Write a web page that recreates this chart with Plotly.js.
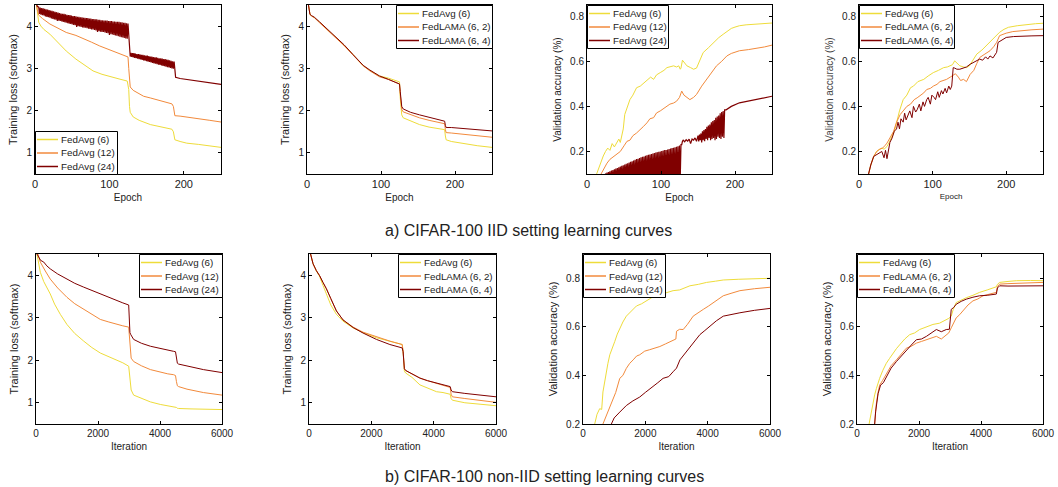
<!DOCTYPE html>
<html><head><meta charset="utf-8">
<script src="https://cdn.plot.ly/plotly-3.0.1.min.js"></script>
<style>html,body{margin:0;padding:0;background:#fff}#chart{width:1058px;height:487px}</style>
</head><body><div id="chart"></div>
<script>
// ---------- colours ----------
const C_Y = '#eedc3a', C_O = '#f28a3c', C_R = '#800000';
const COLORS = [C_Y, C_O, C_R];
function seq(a, step, n){ const r=[]; for(let i=0;i<n;i++) r.push(a+i*step); return r; }
// alternate two series (upper and lower edge of an oscillating curve)
function zigzag(hi, lo){ const r=[]; for(let i=0;i<hi.length;i++){ r.push(hi[i]); if(i<lo.length) r.push(lo[i]); } return r; }

// ---------- a) IID, training loss, FedAvg ----------
const p1YelX = [2,3,5,8,12,20,30,42,55,65,78,90,101,113,124,126,127,128,132,140,155,170,184,186,187,188,195,204,220,235,250];
const p1YelY = [4.5,4.3,4.09,4.0,3.92,3.81,3.62,3.41,3.22,3.1,2.94,2.86,2.80,2.75,2.70,2.5,2.1,1.96,1.85,1.77,1.67,1.61,1.56,1.5,1.35,1.31,1.27,1.23,1.2,1.16,1.13];
const p1OraX = [2,3,5,10,20,30,42,55,65,76,87,98,110,118,125,126,127,128,132,140,146,155,163,174,184,186,187,188,195,204,220,235,250];
const p1OraY = [4.55,4.4,4.26,4.18,4.05,3.96,3.85,3.78,3.71,3.62,3.53,3.45,3.36,3.31,3.27,3.0,2.65,2.56,2.48,2.4,2.34,2.3,2.26,2.21,2.16,2.1,1.92,1.88,1.87,1.85,1.81,1.77,1.73];
const p1RedHeadX = [1,3];
const p1RedHeadY = [4.6,4.47];
// epochs 5..125, odd epochs = upper edge, even epochs = lower edge
const p1RedBand1Hi = [4.45,4.44,4.43,4.42,4.41,4.40,4.39,4.38,4.37,4.36,4.35,4.34,4.33,4.32,4.31,4.30,4.29,4.29,4.28,4.27,4.26,4.26,4.25,4.24,4.24,4.23,4.22,4.22,4.21,4.21,4.20,4.20,4.19,4.19,4.18,4.18,4.17,4.17,4.16,4.16,4.15,4.15,4.14,4.14,4.13,4.13,4.13,4.12,4.12,4.12,4.11,4.11,4.10,4.10,4.10,4.09,4.09,4.08,4.08,4.07,4.06];
const p1RedBand1Lo = [4.29,4.27,4.26,4.25,4.23,4.22,4.21,4.20,4.18,4.17,4.16,4.15,4.12,4.13,4.12,4.11,4.10,4.09,4.08,4.07,4.06,4.05,4.04,4.03,4.02,3.98,4.00,3.99,3.98,3.97,3.96,3.96,3.95,3.94,3.93,3.92,3.92,3.91,3.90,3.86,3.88,3.87,3.86,3.86,3.85,3.84,3.83,3.79,3.81,3.80,3.79,3.78,3.77,3.76,3.75,3.74,3.73,3.72,3.71,3.70];
// epochs 127..187
const p1RedBand2Hi = [3.38,3.37,3.36,3.36,3.35,3.34,3.34,3.33,3.32,3.32,3.31,3.30,3.30,3.29,3.28,3.28,3.27,3.26,3.26,3.25,3.24,3.24,3.23,3.22,3.22,3.21,3.20,3.19,3.18,3.17,3.16];
const p1RedBand2Lo = [3.28,3.27,3.26,3.25,3.24,3.23,3.22,3.21,3.20,3.19,3.18,3.17,3.16,3.15,3.14,3.13,3.12,3.11,3.10,3.09,3.08,3.07,3.06,3.05,3.04,3.03,3.02,3.01,3.00,2.99];
const p1RedTailX = [188,189,195,210,230,250];
const p1RedTailY = [2.85,2.79,2.76,2.72,2.67,2.62];

// ---------- a) IID, training loss, FedLAMA ----------
const p2HeadX = [2,3,4,6,10,17,25,32,40,50,62,70,76,85,98,110,118,123,125];
const p2YelHeadY = [4.5,4.38,4.28,4.24,4.2,4.09,3.96,3.84,3.73,3.55,3.33,3.18,3.06,2.95,2.82,2.77,2.73,2.70,2.68];
const p2OraHeadY = [4.5,4.38,4.28,4.24,4.2,4.08,3.95,3.84,3.72,3.54,3.32,3.17,3.06,2.94,2.80,2.74,2.68,2.65,2.63];
const p2RedHeadY = [4.5,4.38,4.28,4.25,4.21,4.10,3.97,3.85,3.74,3.56,3.33,3.19,3.07,2.96,2.82,2.74,2.68,2.66,2.63];
const p2TailX = [126,127,128,130,140,152,165,178,186,187,188,195,210,230,250];
const p2YelTailY = [2.3,1.98,1.9,1.83,1.75,1.67,1.61,1.57,1.55,1.4,1.31,1.27,1.22,1.17,1.13];
const p2OraTailY = [2.4,2.1,2.03,1.97,1.9,1.83,1.77,1.72,1.69,1.55,1.48,1.47,1.44,1.4,1.37];
const p2RedTailY = [2.45,2.18,2.1,2.04,1.96,1.9,1.84,1.78,1.75,1.65,1.6,1.6,1.58,1.55,1.52];

// ---------- a) IID, validation accuracy, FedAvg ----------
const p3YelX = [13,15,18,22,25,28,31,34,37,40,43,45,47,49,51,54,58,62,67,72,77,81,86,90,94,99,104,108,113,117,121,124,126,127,129,132,135,140,144,148,152,157,164,171,178,184,190,195,200,206,215,229,240,250];
const p3YelY = [0.1,0.12,0.148,0.18,0.2,0.215,0.205,0.235,0.22,0.237,0.255,0.24,0.28,0.30,0.364,0.39,0.43,0.45,0.483,0.49,0.505,0.513,0.53,0.52,0.54,0.55,0.56,0.572,0.575,0.58,0.575,0.58,0.565,0.57,0.605,0.59,0.58,0.572,0.565,0.57,0.6,0.639,0.66,0.684,0.705,0.72,0.735,0.746,0.752,0.758,0.762,0.766,0.768,0.77];
const p3OraX = [19,22,27,31,36,40,45,50,54,58,62,67,72,76,81,85,90,94,99,103,108,112,117,121,125,128,131,135,139,144,148,155,162,168,175,182,189,195,206,218,229,240,250];
const p3OraY = [0.1,0.12,0.148,0.165,0.178,0.19,0.2,0.225,0.245,0.25,0.27,0.282,0.3,0.31,0.327,0.345,0.35,0.371,0.38,0.39,0.40,0.41,0.415,0.423,0.44,0.468,0.45,0.438,0.43,0.44,0.453,0.49,0.52,0.55,0.58,0.6,0.624,0.635,0.647,0.652,0.657,0.664,0.672];
// epochs 25..127, upper edge / lower edge (lower edge lies below the axis)
const p3RedBand1Hi = [0.103,0.106,0.109,0.112,0.115,0.118,0.121,0.124,0.127,0.130,0.133,0.136,0.139,0.142,0.145,0.148,0.151,0.154,0.157,0.160,0.163,0.166,0.168,0.171,0.174,0.176,0.178,0.181,0.183,0.185,0.187,0.189,0.191,0.193,0.195,0.197,0.199,0.200,0.202,0.204,0.206,0.207,0.209,0.211,0.213,0.215,0.217,0.219,0.221,0.223,0.226,0.23];
const p3RedBand1Lo = [0.07,0.06,0.08,0.05,0.07,0.06,0.08,0.05,0.07,0.06,0.08,0.05,0.07,0.06,0.08,0.05,0.07,0.06,0.08,0.05,0.07,0.06,0.08,0.05,0.07,0.06,0.08,0.05,0.07,0.06,0.08,0.05,0.07,0.06,0.08,0.05,0.07,0.06,0.08,0.05,0.07,0.06,0.08,0.05,0.07,0.06,0.08,0.05,0.07,0.06,0.08];
const p3RedMidX = [128,129,130,132,134,136,138,140,142,144,146,148];
const p3RedMidY = [0.23,0.245,0.25,0.243,0.252,0.246,0.255,0.235,0.255,0.25,0.26,0.245];
// epochs 150..186
const p3RedBand2Hi = [0.27,0.275,0.28,0.29,0.295,0.30,0.31,0.315,0.32,0.33,0.335,0.34,0.35,0.355,0.36,0.37,0.375,0.38,0.385];
const p3RedBand2Lo = [0.245,0.25,0.24,0.25,0.245,0.255,0.25,0.26,0.25,0.255,0.26,0.25,0.255,0.265,0.26,0.255,0.265,0.26];
const p3RedTailX = [188,190,195,206,229,250];
const p3RedTailY = [0.385,0.39,0.40,0.416,0.43,0.445];

// ---------- a) IID, validation accuracy, FedLAMA ----------
const p4YelX = [13,16,20,24,27,31,34,38,41,45,48,51,55,60,65,70,74,80,88,94,101,108,115,120,124,127,130,134,137,142,146,150,153,157,160,167,173,180,187,191,197,203,215,227,240,250];
const p4YelY = [0.1,0.14,0.178,0.2,0.207,0.215,0.21,0.222,0.24,0.267,0.29,0.327,0.38,0.43,0.45,0.483,0.49,0.51,0.52,0.535,0.55,0.56,0.572,0.575,0.58,0.585,0.602,0.59,0.58,0.575,0.572,0.58,0.595,0.615,0.632,0.65,0.669,0.69,0.714,0.729,0.742,0.751,0.758,0.763,0.767,0.769];
const p4OraX = [13,16,20,24,28,32,35,38,42,47,51,56,60,65,70,75,79,84,88,92,97,101,106,110,115,119,124,128,131,135,138,142,146,151,156,160,164,170,178,183,187,191,200,209,220,235,250];
const p4OraY = [0.1,0.14,0.178,0.2,0.21,0.215,0.225,0.237,0.26,0.289,0.33,0.364,0.38,0.4,0.41,0.43,0.438,0.45,0.46,0.475,0.48,0.49,0.498,0.51,0.515,0.52,0.53,0.54,0.545,0.53,0.515,0.52,0.51,0.542,0.56,0.59,0.617,0.63,0.647,0.665,0.684,0.714,0.725,0.732,0.736,0.74,0.743];
const p4RedX = [13,16,20,24,28,31,34,36,38,40,42,45,48,51,53,55,57,60,62,64,67,69,72,74,77,79,82,84,87,89,92,94,97,99,102,104,107,109,112,114,117,119,122,124,126,127,128,130,133,137,141,146,151,156,160,164,168,172,175,178,182,185,187,189,192,196,200,210,220,235,250];
const p4RedY = [0.1,0.14,0.178,0.185,0.193,0.2,0.172,0.205,0.168,0.215,0.24,0.26,0.29,0.30,0.33,0.30,0.345,0.33,0.37,0.34,0.36,0.38,0.35,0.40,0.375,0.385,0.41,0.38,0.42,0.40,0.43,0.44,0.41,0.45,0.44,0.43,0.465,0.44,0.47,0.455,0.48,0.46,0.49,0.475,0.49,0.52,0.572,0.57,0.565,0.565,0.57,0.575,0.587,0.595,0.60,0.61,0.605,0.62,0.61,0.624,0.615,0.632,0.64,0.684,0.69,0.7,0.706,0.71,0.712,0.713,0.714];

// ---------- b) non-IID, training loss, FedAvg ----------
const p5YelX = [30,80,140,250,460,600,785,1000,1250,1540,1800,2075,2350,2610,2800,2990,3010,3040,3070,3150,3400,3690,4010,4250,4500,4530,4560,4600,5000,5500,6000];
const p5YelY = [4.5,4.3,4.07,3.85,3.56,3.32,3.08,2.84,2.63,2.45,2.3,2.17,2.08,2.01,1.94,1.86,1.7,1.4,1.3,1.18,1.1,1.02,0.96,0.93,0.9,0.89,0.87,0.865,0.855,0.845,0.84];
const p5OraX = [40,80,140,300,460,700,1000,1250,1540,1800,2075,2350,2610,2800,2990,3010,3040,3070,3150,3400,3690,4000,4250,4440,4500,4530,4560,4600,4870,5400,6000];
const p5OraY = [4.55,4.45,4.31,4.1,3.91,3.7,3.48,3.33,3.2,3.07,2.96,2.9,2.84,2.81,2.78,2.6,2.2,2.05,1.97,1.87,1.78,1.72,1.68,1.66,1.64,1.5,1.4,1.38,1.32,1.24,1.18];
const p5RedX = [30,90,150,250,350,460,700,1000,1250,1540,1800,2075,2350,2610,2800,2990,3010,3030,3060,3150,3400,3690,4000,4250,4440,4500,4530,4560,4600,4870,5400,6000];
const p5RedY = [4.5,4.43,4.35,4.31,4.22,4.15,4.03,3.91,3.81,3.72,3.64,3.56,3.47,3.40,3.35,3.30,3.0,2.65,2.6,2.49,2.4,2.33,2.28,2.25,2.21,2.2,2.05,1.93,1.91,1.86,1.78,1.71];

// ---------- b) non-IID, training loss, FedLAMA ----------
const p6X = [50,75,130,235,340,450,560,700,880,1090,1415,1735,2165,2595,2990,3020,3060,3100,3300,3560,3800,4090,4300,4470,4530,4560,4600,5000,5500,6000];
const p6YelY = [4.5,4.43,4.27,4.1,3.97,3.76,3.56,3.3,3.08,2.92,2.76,2.65,2.53,2.45,2.37,2.2,1.75,1.70,1.6,1.42,1.34,1.26,1.24,1.22,1.2,1.1,1.06,1.0,0.96,0.93];
const p6OraY = [4.5,4.43,4.27,4.11,3.99,3.83,3.68,3.45,3.16,2.95,2.78,2.66,2.55,2.45,2.37,2.2,1.8,1.76,1.68,1.58,1.52,1.46,1.42,1.39,1.36,1.2,1.14,1.1,1.06,1.01];
const p6RedY = [4.5,4.43,4.27,4.11,3.99,3.83,3.68,3.45,3.16,2.95,2.77,2.64,2.49,2.37,2.29,2.2,1.8,1.76,1.68,1.58,1.52,1.46,1.42,1.39,1.38,1.3,1.26,1.22,1.18,1.14];

// ---------- b) non-IID, validation accuracy, FedAvg ----------
const p7YelX = [375,450,535,600,640,700,750,800,860,940,1020,1100,1180,1280,1390,1550,1715,1880,2035,2200,2360,2600,2890,3100,3430,3700,3965,4250,4500,5000,5500,6000];
const p7YelY = [0.2,0.24,0.263,0.26,0.332,0.38,0.429,0.45,0.485,0.51,0.54,0.57,0.596,0.62,0.644,0.665,0.686,0.695,0.707,0.72,0.728,0.738,0.749,0.752,0.769,0.775,0.783,0.788,0.793,0.796,0.798,0.8];
const p7OraX = [640,700,750,850,965,1050,1180,1280,1390,1500,1610,1720,1820,1980,2140,2300,2465,2650,2890,2980,3000,3100,3215,3350,3535,3700,3860,4020,4180,4340,4500,4750,5035,5500,6000];
const p7OraY = [0.2,0.22,0.235,0.27,0.304,0.33,0.388,0.40,0.429,0.45,0.464,0.48,0.485,0.5,0.506,0.512,0.519,0.53,0.547,0.55,0.582,0.59,0.589,0.61,0.644,0.66,0.672,0.685,0.70,0.715,0.728,0.738,0.749,0.757,0.763];
const p7RedX = [910,1000,1180,1390,1600,1820,2000,2250,2400,2570,2750,2890,3000,3110,3270,3430,3590,3750,3910,4070,4280,4500,4750,5035,5500,6000];
const p7RedY = [0.2,0.225,0.249,0.276,0.295,0.311,0.33,0.353,0.37,0.388,0.395,0.415,0.43,0.464,0.49,0.513,0.54,0.568,0.585,0.603,0.625,0.644,0.652,0.658,0.668,0.676];

// ---------- b) non-IID, validation accuracy, FedLAMA ----------
const p8YelX = [390,450,515,570,625,680,730,830,945,1050,1160,1270,1375,1540,1700,1860,2020,2240,2450,2660,2880,2960,3040,3100,3200,3360,3525,3740,3955,4200,4495,4530,4600,4870,5140,5600,6000];
const p8YelY = [0.2,0.24,0.29,0.32,0.346,0.37,0.388,0.42,0.45,0.47,0.492,0.51,0.526,0.55,0.568,0.575,0.589,0.60,0.61,0.615,0.63,0.635,0.644,0.67,0.70,0.71,0.72,0.73,0.742,0.752,0.765,0.775,0.783,0.787,0.79,0.791,0.79];
const p8OraX = [570,620,680,730,830,945,1100,1270,1430,1590,1750,1915,2080,2240,2400,2560,2720,2880,2960,3040,3120,3200,3310,3420,3580,3740,3900,4065,4280,4495,4530,4600,4870,5400,6000];
const p8OraY = [0.2,0.28,0.33,0.36,0.38,0.408,0.44,0.464,0.49,0.512,0.52,0.533,0.54,0.547,0.555,0.561,0.55,0.568,0.575,0.596,0.62,0.637,0.65,0.665,0.69,0.707,0.715,0.728,0.735,0.742,0.765,0.776,0.778,0.781,0.783];
const p8RedX = [570,600,680,760,850,945,1100,1270,1430,1590,1750,1915,2080,2240,2400,2560,2720,2880,2980,3020,3040,3120,3200,3360,3525,3740,3955,4200,4495,4530,4600,4870,5400,6000];
const p8RedY = [0.2,0.25,0.325,0.36,0.37,0.394,0.43,0.457,0.48,0.506,0.525,0.547,0.55,0.561,0.575,0.589,0.58,0.589,0.59,0.64,0.672,0.68,0.693,0.705,0.714,0.722,0.728,0.73,0.735,0.76,0.769,0.768,0.768,0.769];

// ---------- labels ----------
const NAMES_AVG = ['FedAvg (6)','FedAvg (12)','FedAvg (24)'];
const NAMES_LAMA = ['FedAvg (6)','FedLAMA (6, 2)','FedLAMA (6, 4)'];
const CAPTION_A = 'a) CIFAR-100 IID setting learning curves';
const CAPTION_B = 'b) CIFAR-100 non-IID setting learning curves';

// ---------- assemble ----------
const b1 = zigzag(p1RedBand1Hi, p1RedBand1Lo), b2 = zigzag(p1RedBand2Hi, p1RedBand2Lo);
const p1RedX = [...p1RedHeadX, ...seq(5,1,b1.length), ...seq(127,1,b2.length), ...p1RedTailX];
const p1RedY = [...p1RedHeadY, ...b1, ...b2, ...p1RedTailY];
const c1 = zigzag(p3RedBand1Hi, p3RedBand1Lo), c2 = zigzag(p3RedBand2Hi, p3RedBand2Lo);
const p3RedX = [...seq(25,1,c1.length), ...p3RedMidX, ...seq(150,1,c2.length), ...p3RedTailX];
const p3RedY = [...c1, ...p3RedMidY, ...c2, ...p3RedTailY];

function tr(x,y,color,n,w){
  return {x:x,y:y,type:'scatter',mode:'lines',line:{color:color,width:w||1},showlegend:false,
    xaxis:n===1?'x':'x'+n, yaxis:n===1?'y':'y'+n, hoverinfo:'skip'};
}
const traces = [
  tr(p1YelX,p1YelY,C_Y,1), tr(p1OraX,p1OraY,C_O,1), tr(p1RedX,p1RedY,C_R,1,1.2),
  tr([...p2HeadX,...p2TailX],[...p2YelHeadY,...p2YelTailY],C_Y,2),
  tr([...p2HeadX,...p2TailX],[...p2OraHeadY,...p2OraTailY],C_O,2),
  tr([...p2HeadX,...p2TailX],[...p2RedHeadY,...p2RedTailY],C_R,2),
  tr(p3YelX,p3YelY,C_Y,3), tr(p3OraX,p3OraY,C_O,3), tr(p3RedX,p3RedY,C_R,3,1.2),
  tr(p4YelX,p4YelY,C_Y,4), tr(p4OraX,p4OraY,C_O,4), tr(p4RedX,p4RedY,C_R,4),
  tr(p5YelX,p5YelY,C_Y,5), tr(p5OraX,p5OraY,C_O,5), tr(p5RedX,p5RedY,C_R,5),
  tr(p6X,p6YelY,C_Y,6), tr(p6X,p6OraY,C_O,6), tr(p6X,p6RedY,C_R,6),
  tr(p7YelX,p7YelY,C_Y,7), tr(p7OraX,p7OraY,C_O,7), tr(p7RedX,p7RedY,C_R,7),
  tr(p8YelX,p8YelY,C_Y,8), tr(p8OraX,p8OraY,C_O,8), tr(p8RedX,p8RedY,C_R,8)
];

const W=1058, H=487, FONT='Liberation Sans, Arial, sans-serif';
const px = v => v/W, py = v => 1 - v/H;
// panel boxes in pixels: [left, right, top, bottom]
const boxes = [[35,221,5,174],[307,492,5,174],[587,772,5,174],[859,1043,5,174],
               [36,222,254,424],[309,496,254,424],[583,770,254,424],[857,1043,254,424]];
const layout = {width:W,height:H,margin:{l:0,r:0,t:0,b:0},paper_bgcolor:'#fff',plot_bgcolor:'#fff',
  font:{family:FONT,color:'#222',size:10}, showlegend:false, annotations:[], shapes:[], hovermode:false};
const isLoss = [true,true,false,false,true,true,false,false];
boxes.forEach((b,i)=>{
  const n=i+1, top=i<4;
  const xa = {domain:[px(b[0]),px(b[1])], anchor:n===1?'y':'y'+n, range: top?[0,250]:[0,6000],
    tickvals: top?[0,100,200]:[0,2000,4000,6000], showline:true, mirror:'ticks', linecolor:'#000', linewidth:1,
    ticks:'inside', ticklen:3, tickcolor:'#000', showgrid:false, zeroline:false,
    tickfont:{size: top?11:10, family:FONT, color:'#222'},
    title:{text: top?'Epoch':'Iteration', font:{size: n===4?8:10, family:FONT, color:'#222'}, standoff:4}};
  let yr, yt;
  if (isLoss[i]) { yr=[0.5,4.5]; yt=[1,2,3,4]; }
  else if (top) { yr=[0.1,0.85]; yt=[0.2,0.4,0.6,0.8]; }
  else { yr=[0.2,0.9]; yt=[0.2,0.4,0.6,0.8]; }
  const ya = {domain:[py(b[3]),py(b[2])], anchor:n===1?'x':'x'+n, range:yr, tickvals:yt,
    showline:true, mirror:'ticks', linecolor:'#000', linewidth:1, ticks:'inside', ticklen:3, tickcolor:'#000',
    showgrid:false, zeroline:false, tickfont:{size:10,family:FONT,color:'#222'},
    title:{text: isLoss[i]?'Training loss (softmax)':'Validation accuracy (%)',
      font:{size: (n===3||n===4)?10:11, family:FONT, color: n===4?'#444':'#222'}, standoff:6}};
  layout[n===1?'xaxis':'xaxis'+n]=xa;
  layout[n===1?'yaxis':'yaxis'+n]=ya;
});

// legend boxes drawn as shapes + text: [left, top, width] in pixels
const legBoxes = [[35,131,82],[396,5,96],[587,5,81],[859,5,95],[139,254,83],[398,254,98],[583,254,82],[857,254,97]];
legBoxes.forEach((lb,i)=>{
  const names = (i%2===0) ? NAMES_AVG : NAMES_LAMA;
  const L=lb[0], T=lb[1], Wd=lb[2], Hh=43;
  layout.shapes.push({type:'rect',xref:'paper',yref:'paper',x0:px(L+0.5),x1:px(L+Wd+0.5),y0:py(T+0.5),y1:py(T+Hh+0.5),
    fillcolor:'#fff',line:{color:'#000',width:1},layer:'above'});
  names.forEach((nm,k)=>{
    const yc = T + 8.5 + k*13.5;
    layout.shapes.push({type:'line',xref:'paper',yref:'paper',x0:px(L+2),x1:px(L+23),y0:py(yc),y1:py(yc),
      line:{color:COLORS[k],width:1.5},layer:'above'});
    layout.annotations.push({text:nm,xref:'paper',yref:'paper',x:px(L+25),y:py(yc),xanchor:'left',yanchor:'middle',
      showarrow:false,font:{size:9.8,family:FONT,color:'#222'},borderpad:0});
  });
});
layout.annotations.push({text:CAPTION_A,xref:'paper',yref:'paper',x:px(383),y:py(230),xanchor:'left',yanchor:'middle',showarrow:false,font:{size:16,family:FONT,color:'#222'}});
layout.annotations.push({text:CAPTION_B,xref:'paper',yref:'paper',x:px(383),y:py(476),xanchor:'left',yanchor:'middle',showarrow:false,font:{size:16,family:FONT,color:'#222'}});

Plotly.newPlot('chart', traces, layout, {staticPlot:true, displayModeBar:false});
</script></body></html>
